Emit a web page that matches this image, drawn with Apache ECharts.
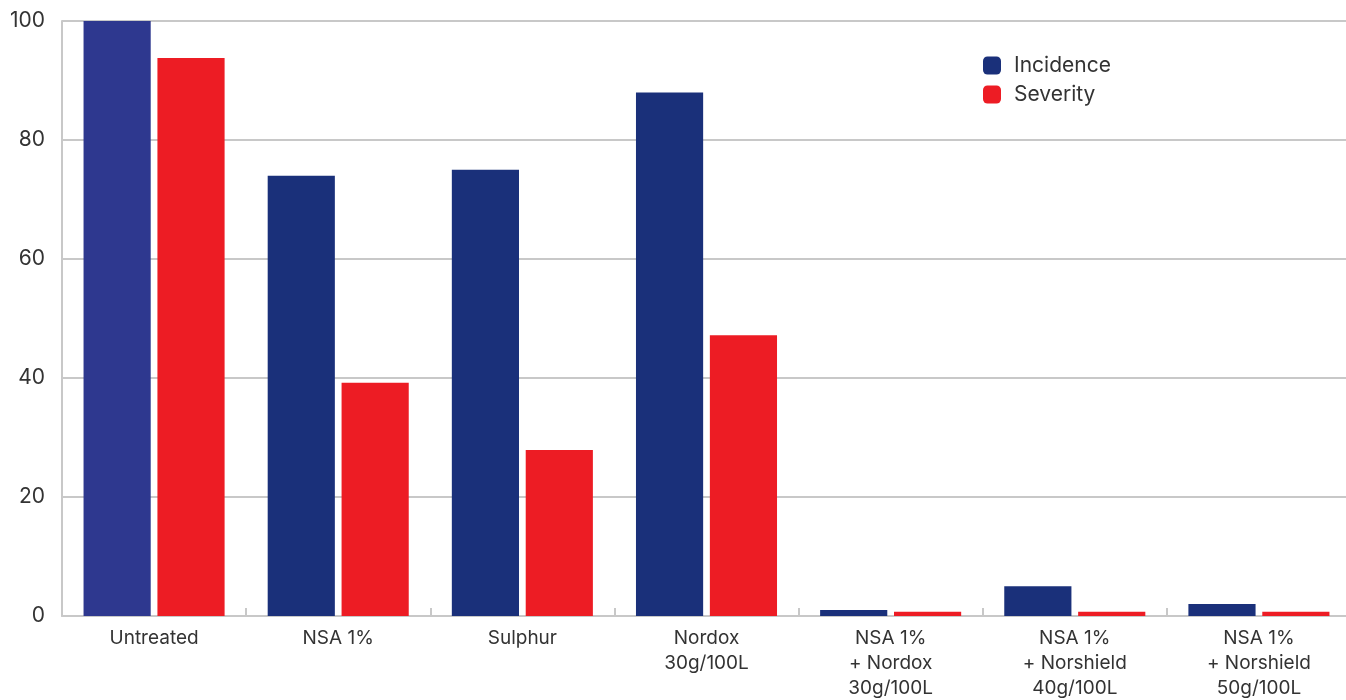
<!DOCTYPE html>
<html>
<head>
<meta charset="utf-8">
<script src="https://cdn.jsdelivr.net/npm/echarts@6/dist/echarts.min.js"></script>
<style>html,body{margin:0;padding:0;background:#fff}#c{width:1346px;height:700px}</style>
</head>
<body>
<div id="c"></div>
<script>
const categories = ['Untreated', 'NSA 1%', 'Sulphur', 'Nordox\n30g/100L', 'NSA 1%\n+ Nordox\n30g/100L', 'NSA 1%\n+ Norshield\n40g/100L', 'NSA 1%\n+ Norshield\n50g/100L'];
const incidence = [100, 74, 75, 88, 1, 5, 2];
const severity = [93.8, 39.2, 27.9, 47.2, 0.7, 0.7, 0.7];
const yTicks = [0, 20, 40, 60, 80, 100];

const FONT = 'Inter, "Noto Sans", sans-serif';
const chart = echarts.init(document.getElementById('c'));
chart.setOption({
  animation: false,
  textStyle: { fontFamily: FONT },
  grid: { left: 62, width: 1289, top: 21, bottom: 84, containLabel: false, outerBoundsMode: 'none' },
  legend: {
    orient: 'vertical', left: 978, top: 50,
    itemWidth: 18, itemHeight: 18, itemGap: 8,
    icon: 'roundRect',
    textStyle: { fontSize: 21, color: '#333', fontFamily: FONT, padding: [0, 0, 0, 8] },
    data: ['Incidence', 'Severity']
  },
  xAxis: {
    type: 'category', data: categories,
    axisLine: { lineStyle: { color: '#c8c8c8', width: 2 } },
    axisTick: { show: true, inside: true, length: 8, lineStyle: { color: '#c8c8c8', width: 2 } },
    axisLabel: { fontSize: 19, color: '#333', lineHeight: 25, margin: 10, fontFamily: FONT }
  },
  yAxis: {
    type: 'value', min: 0, max: 100, interval: 20,
    axisLine: { show: true, lineStyle: { color: '#c8c8c8', width: 2 } },
    axisTick: { show: false },
    splitLine: { lineStyle: { color: '#c8c8c8', width: 2 } },
    axisLabel: { fontSize: 21, color: '#333', margin: 17, fontFamily: FONT,
      formatter: v => yTicks.includes(v) ? String(v) : '' }
  },
  series: [
    { name: 'Incidence', type: 'bar', barCategoryGap: '23.4%', barGap: '10%',
      itemStyle: { color: '#1a307a' },
      data: incidence.map((v, i) => i === 0 ? { value: v, itemStyle: { color: '#2e388f' } } : v) },
    { name: 'Severity', type: 'bar', barCategoryGap: '23.4%', barGap: '10%',
      itemStyle: { color: '#ed1c24' }, data: severity }
  ]
});
</script>
</body>
</html>
